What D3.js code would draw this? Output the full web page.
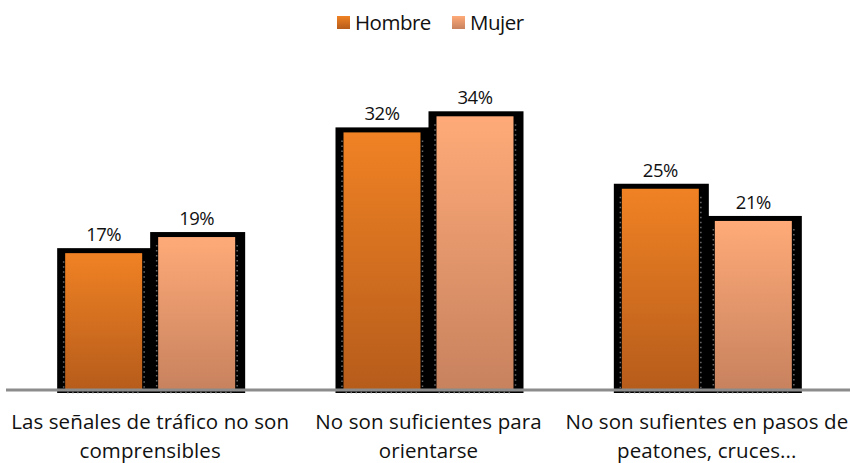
<!DOCTYPE html>
<html lang="es">
<head>
<meta charset="UTF-8">
<title>Señales</title>
<script src="https://d3js.org/d3.v7.min.js"></script>
<style>
  body { margin: 0; background: #fff; }
  svg { display: block; }
  text { font-family: "Open Sans", sans-serif; fill: #111; }
</style>
</head>
<body>
<svg width="850" height="463"></svg>
<script>
const categories = [
  ["Las señales de tráfico no son", "comprensibles"],
  ["No son suficientes para", "orientarse"],
  ["No son sufientes en pasos de", "peatones, cruces..."]
];
const series = ["Hombre", "Mujer"];
const hombre = [17, 32, 25];
const mujer = [19, 34, 21];
const values = [hombre, mujer];

const gradColors = {
  Hombre: ["#f08224", "#b65c1b"],
  Mujer: ["#ffaa78", "#c7825e"]
};

const svg = d3.select("svg");
const baseY = 390;

const x0 = d3.scaleBand().domain(d3.range(categories.length)).range([11, 846]);
const groupW = 170;
const x1 = d3.scaleBand().domain(series).range([0, groupW]).paddingInner(0.172);
const y = d3.scaleLinear().domain([0, 40]).range([baseY, baseY - 322]);

const defs = svg.append("defs");
series.forEach(s => {
  const g = defs.append("linearGradient").attr("id", "g-" + s)
    .attr("x1", 0).attr("y1", 0).attr("x2", 0).attr("y2", 1);
  g.append("stop").attr("offset", "0%").attr("stop-color", gradColors[s][0]);
  g.append("stop").attr("offset", "100%").attr("stop-color", gradColors[s][1]);
});

const bars = [];
categories.forEach((c, i) => {
  series.forEach((s, j) => {
    bars.push({ cat: i, s, v: values[j][i],
      x: x0(i) + (x0.bandwidth() - groupW) / 2 + x1(s) });
  });
});

// black shadow frames
svg.append("g").selectAll("rect").data(bars).join("rect")
  .attr("x", d => d.x - 8)
  .attr("y", d => y(d.v) - 5)
  .attr("width", x1.bandwidth() + 18)
  .attr("height", d => baseY + 3 - (y(d.v) - 5))
  .attr("fill", "#000");

// dotted edges
const dots = svg.append("g").attr("stroke", "#6a6a6a").attr("stroke-width", 1.5)
  .attr("stroke-dasharray", "1.5,3.5");
bars.forEach(d => {
  [d.x - 1.5, d.x + x1.bandwidth() + 2].forEach(xx => {
    dots.append("line").attr("x1", xx).attr("x2", xx)
      .attr("y1", y(d.v) + 8).attr("y2", baseY);
  });
  dots.append("line").attr("x1", d.x + 2).attr("x2", d.x + x1.bandwidth() - 2)
    .attr("y1", baseY + 2.5).attr("y2", baseY + 2.5);
});

// bars
svg.append("g").selectAll("rect").data(bars).join("rect")
  .attr("x", d => d.x)
  .attr("y", d => y(d.v))
  .attr("width", x1.bandwidth())
  .attr("height", d => baseY - y(d.v))
  .attr("fill", d => "url(#g-" + d.s + ")");

// baseline
svg.append("line").attr("x1", 6).attr("x2", 850).attr("y1", baseY).attr("y2", baseY)
  .attr("stroke", "#8c8c8c").attr("stroke-width", 3);

// value labels
svg.append("g").selectAll("text").data(bars).join("text")
  .attr("x", d => d.x + x1.bandwidth() / 2)
  .attr("y", d => y(d.v) - 12)
  .attr("text-anchor", "middle")
  .attr("font-size", 18.5)
  .attr("letter-spacing", -0.5)
  .text(d => d.v + "%");

// category labels
const cl = svg.append("g").selectAll("text").data(categories).join("text")
  .attr("text-anchor", "middle")
  .attr("font-size", 20.5)
  .attr("letter-spacing", 0.1)
  .attr("y", 429);
cl.selectAll("tspan").data((d, i) => d.map(t => ({ t, i }))).join("tspan")
  .attr("x", d => x0(d.i) + x0.bandwidth() / 2)
  .attr("dy", (d, k) => k === 0 ? 0 : 28.5)
  .text(d => d.t);

// legend
const legX = [337, 452];
const leg = svg.append("g").selectAll("g").data(series).join("g")
  .attr("transform", (d, i) => `translate(${legX[i]},0)`);
leg.append("rect").attr("x", 0).attr("y", 16).attr("width", 13).attr("height", 13)
  .attr("fill", d => "url(#g-" + d + ")");
leg.append("text").attr("x", 18).attr("y", 30).attr("font-size", 20.5)
  .attr("letter-spacing", -0.5).text(d => d);
</script>
</body>
</html>
